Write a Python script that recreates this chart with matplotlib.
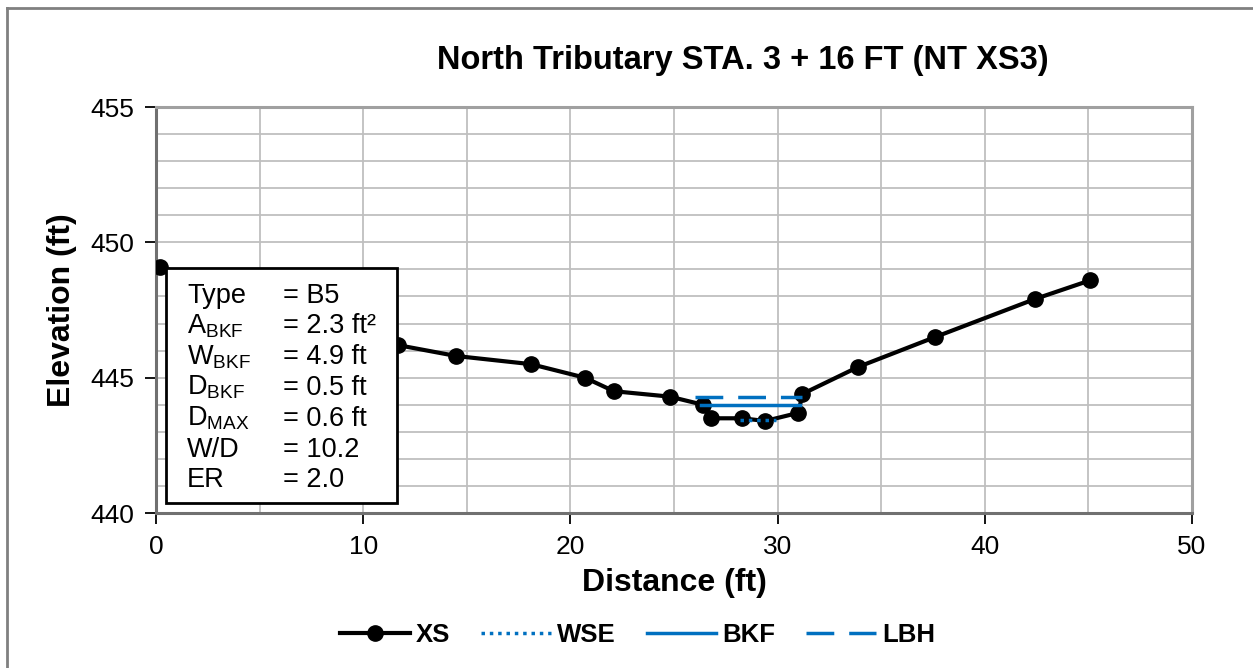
import matplotlib
matplotlib.use("Agg")
import matplotlib.pyplot as plt
from matplotlib.patches import Rectangle
from matplotlib.lines import Line2D
from matplotlib.ticker import MultipleLocator

plt.rcParams['font.family'] = ['Liberation Sans', 'DejaVu Sans']
plt.rcParams['mathtext.fontset'] = 'custom'
plt.rcParams['mathtext.rm'] = 'Liberation Sans'

# cross section survey points
dist = [0.2, 11.7, 14.5, 18.1, 20.7, 22.1, 24.8, 26.4, 26.8, 28.3, 29.4, 31.0, 31.2, 33.9, 37.6, 42.4, 45.1]
elev = [449.1, 446.2, 445.8, 445.5, 445.0, 444.5, 444.3, 444.0, 443.5, 443.5, 443.4, 443.7, 444.4, 445.4, 446.5, 447.9, 448.6]

# water surface, bankfull and low bank height
wse_x = [28.2, 29.9]
wse_y = [443.45, 443.45]
bkf_x = [26.3, 31.1]
bkf_y = [444.0, 444.0]
lbh_x = [26.0, 31.2]
lbh_y = [444.3, 444.3]

# summary table
labels = ["Type", "A$_{\\mathrm{BKF}}$", "W$_{\\mathrm{BKF}}$", "D$_{\\mathrm{BKF}}$",
          "D$_{\\mathrm{MAX}}$", "W/D", "ER"]
values = ["= B5", "= 2.3 ft²", "= 4.9 ft", "= 0.5 ft", "= 0.6 ft", "= 10.2", "= 2.0"]

blue = '#0070C0'

fig = plt.figure(figsize=(12.53, 6.68), dpi=100)
ax = fig.add_axes([0.1245, 0.232, 0.8268, 0.6078])

ax.plot(dist, elev, color='black', lw=3, marker='o', ms=11, label='XS', zorder=3)
ax.plot(wse_x, wse_y, color=blue, lw=2.5, ls=(0, (1, 1.4)), label='WSE', zorder=4)
ax.plot(bkf_x, bkf_y, color=blue, lw=2.5, label='BKF', zorder=4)
ax.plot(lbh_x, lbh_y, color=blue, lw=2.5, ls=(0, (8, 4.3)), label='LBH', zorder=4)

ax.set_xlim(0, 50)
ax.set_ylim(440, 455)
ax.xaxis.set_major_locator(MultipleLocator(10))
ax.xaxis.set_minor_locator(MultipleLocator(5))
ax.yaxis.set_major_locator(MultipleLocator(5))
ax.yaxis.set_minor_locator(MultipleLocator(1))
ax.grid(which='both', color='#bfbfbf', lw=1.3, zorder=0)
ax.set_axisbelow(True)
ax.tick_params(which='major', direction='out', length=8, width=1.3, labelsize=19, pad=8)
ax.tick_params(which='minor', length=0)
for s in ['left', 'bottom']:
    ax.spines[s].set_color('#707070')
    ax.spines[s].set_linewidth(2.2)
for s in ['top', 'right']:
    ax.spines[s].set_color('#a0a0a0')
    ax.spines[s].set_linewidth(2.2)

ax.set_xlabel('Distance (ft)', fontsize=23, fontweight='bold', labelpad=6)
ax.set_ylabel('Elevation (ft)', fontsize=23, fontweight='bold', labelpad=9)

fig.text(0.593, 0.91, 'North Tributary STA. 3 + 16 FT (NT XS3)', fontsize=23.5,
         fontweight='bold', ha='center', va='center')

# summary box
ax.add_patch(Rectangle((0.0097, 0.0246), 0.223, 0.578, transform=ax.transAxes,
                       facecolor='white', edgecolor='black', lw=2, zorder=5))
for i, (lab, val) in enumerate(zip(labels, values)):
    yy = 0.5185 - i * 0.0759
    ax.text(0.030, yy, lab, transform=ax.transAxes, fontsize=19.5, va='baseline', zorder=6)
    ax.text(0.1226, yy, val, transform=ax.transAxes, fontsize=19.5, va='baseline', zorder=6)

leg = fig.legend(loc='center', bbox_to_anchor=(0.509, 0.049), ncol=4, frameon=False,
                 prop={'weight': 'bold', 'size': 18.5}, handlelength=2.7,
                 columnspacing=1.2, handletextpad=0.25)

# chart border
fig.add_artist(Line2D([0.0056, 0.0056], [0, 0.988], color='#808080', lw=2))
fig.add_artist(Line2D([0.0056, 1], [0.988, 0.988], color='#808080', lw=2))

fig.savefig('out.png', dpi=100)
